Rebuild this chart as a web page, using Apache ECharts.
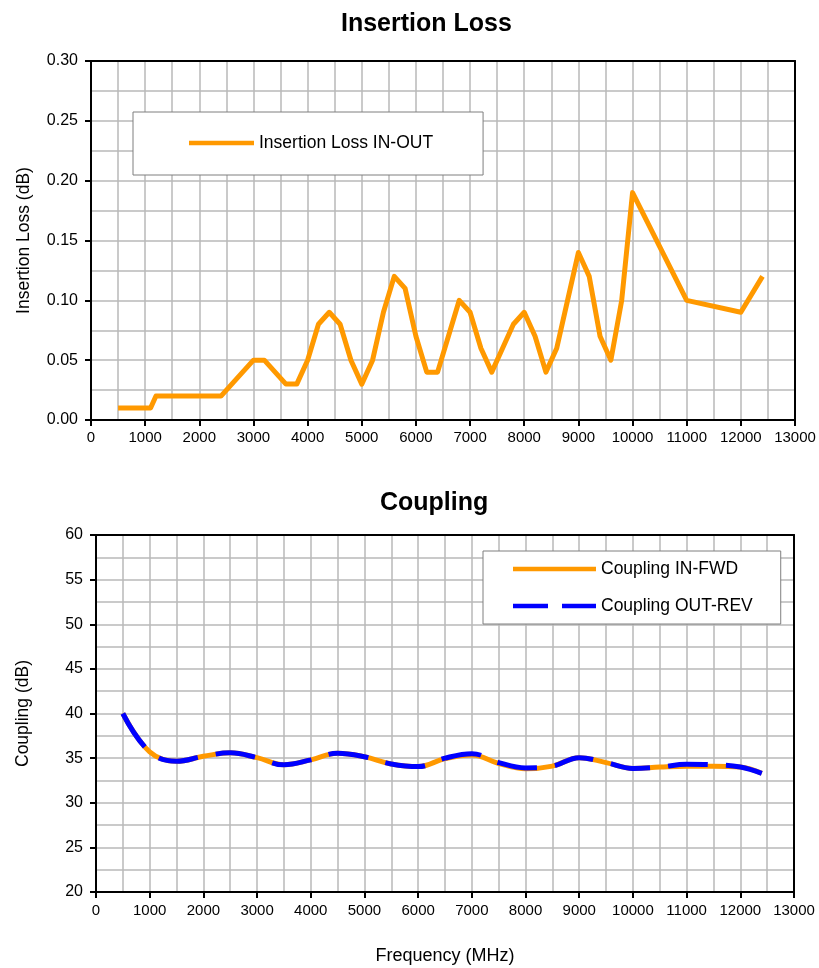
<!DOCTYPE html>
<html>
<head>
<meta charset="utf-8">
<script src="https://cdn.jsdelivr.net/npm/echarts@6/dist/echarts.min.js"></script>
<style>
  html, body { margin: 0; padding: 0; background: #fff; }
  #main { width: 819px; height: 968px; }
</style>
</head>
<body>
<div id="main"></div>
<script>
// Insertion loss (dB) vs frequency (MHz)
const ilFreq = [500, 1000, 1100, 1200, 2400, 3000, 3200, 3600, 3800, 4000, 4200, 4400, 4600, 4800, 5000, 5200, 5400, 5600, 5800, 6000, 6200, 6400, 6600, 6800, 7000, 7200, 7400, 7600, 7800, 8000, 8200, 8400, 8600, 8800, 9000, 9200, 9400, 9600, 9800, 10000, 11000, 12000, 12400];
const ilLoss = [0.01, 0.01, 0.01, 0.02, 0.02, 0.05, 0.05, 0.03, 0.03, 0.05, 0.08, 0.09, 0.08, 0.05, 0.03, 0.05, 0.09, 0.12, 0.11, 0.07, 0.04, 0.04, 0.07, 0.10, 0.09, 0.06, 0.04, 0.06, 0.08, 0.09, 0.07, 0.04, 0.06, 0.10, 0.14, 0.12, 0.07, 0.05, 0.10, 0.19, 0.10, 0.09, 0.12];

// Coupling (dB) vs frequency (MHz)
const cplFreq = [500, 1000, 1500, 2000, 2500, 3000, 3500, 4000, 4500, 5000, 5500, 6000, 6500, 7000, 7500, 8000, 8500, 9000, 9500, 10000, 10500, 11000, 11500, 12000, 12400];
const cplFwd = [40.0, 35.7, 34.65, 35.2, 35.6, 35.05, 34.25, 34.8, 35.55, 35.15, 34.35, 34.05, 34.95, 35.35, 34.4, 33.8, 34.1, 35.05, 34.5, 33.85, 34.0, 34.1, 34.1, 34.0, 33.3];
const cplRev = [40.0, 35.7, 34.65, 35.2, 35.6, 35.05, 34.25, 34.8, 35.55, 35.15, 34.35, 34.05, 35.0, 35.5, 34.5, 33.9, 34.1, 35.05, 34.5, 33.85, 34.0, 34.3, 34.25, 34.0, 33.3];

const xTicks = { min: 0, max: 13000, interval: 1000 };

function zip(xs, ys) {
  return xs.map((x, i) => [x, ys[i]]);
}

const FONT = 'Arial, "Liberation Sans", sans-serif';
const gridGray = '#b9b9b9';

// legend swatches: a solid bar and a bar with one gap
const solidIcon = 'path://M0,0H83V4.5H0Z';
const dashIcon = 'path://M0,0H35V4.5H0Z M49,0H83V4.5H49Z';

function mainX(gridIndex, labelMargin, extra) {
  return Object.assign({
    type: 'value',
    gridIndex: gridIndex,
    min: xTicks.min,
    max: xTicks.max,
    interval: xTicks.interval,
    axisLine: { show: true, onZero: false, lineStyle: { color: '#000', width: 2 } },
    axisTick: { show: true, length: 6, lineStyle: { color: '#000', width: 2 } },
    axisLabel: { color: '#000', fontSize: 15, fontFamily: FONT, margin: labelMargin, formatter: v => String(v) },
    splitLine: { show: true, lineStyle: { color: gridGray, width: 1.5 } },
    minorTick: { show: false, splitNumber: 2 },
    minorSplitLine: { show: true, lineStyle: { color: gridGray, width: 1.5 } }
  }, extra || {});
}

function mainY(gridIndex, min, max, interval, name, nameGap, fmt) {
  return {
    type: 'value',
    gridIndex: gridIndex,
    min: min,
    max: max,
    interval: interval,
    name: name,
    nameLocation: 'middle',
    nameGap: nameGap,
    nameTextStyle: { color: '#000', fontSize: 17.5, fontFamily: FONT },
    axisLine: { show: true, onZero: false, lineStyle: { color: '#000', width: 2 } },
    axisTick: { show: true, length: 6, lineStyle: { color: '#000', width: 2 } },
    axisLabel: { color: '#000', fontSize: 16, fontFamily: FONT, margin: 13, formatter: fmt },
    splitLine: { show: true, lineStyle: { color: gridGray, width: 1.5 } },
    minorTick: { show: false, splitNumber: 2 },
    minorSplitLine: { show: true, lineStyle: { color: gridGray, width: 1.5 } }
  };
}

// plain black edge for the top / right of each plot box
function edgeAxis(gridIndex, position, min, max) {
  return {
    type: 'value',
    gridIndex: gridIndex,
    position: position,
    min: min,
    max: max,
    axisLine: { show: true, onZero: false, lineStyle: { color: '#000', width: 2 } },
    axisTick: { show: false },
    axisLabel: { show: false },
    splitLine: { show: false }
  };
}

const chart = echarts.init(document.getElementById('main'), null, { renderer: 'canvas' });

const option = {
  backgroundColor: '#fff',
  animation: false,
  title: [
    { text: 'Insertion Loss', left: 336, top: 7,
      textStyle: { fontSize: 25, fontWeight: 'bold', color: '#000', fontFamily: FONT } },
    { text: 'Coupling', left: 375, top: 486,
      textStyle: { fontSize: 25, fontWeight: 'bold', color: '#000', fontFamily: FONT } }
  ],
  grid: [
    { left: 91, right: 24, top: 61, height: 359 },
    { left: 96, right: 25, top: 535, height: 357 }
  ],
  legend: [
    {
      data: [{ name: 'Insertion Loss IN-OUT', icon: solidIcon }],
      left: 133, top: 112,
      padding: [22, 50, 23, 56],
      itemWidth: 65, itemHeight: 4.5,
      symbolKeepAspect: false,
      backgroundColor: '#fff',
      borderColor: '#7f7f7f', borderWidth: 1,
      textStyle: { color: '#000', fontSize: 17.5, fontFamily: FONT }
    },
    {
      data: [
        { name: 'Coupling IN-FWD', icon: solidIcon },
        { name: 'Coupling OUT-REV', icon: dashIcon }
      ],
      orient: 'vertical',
      left: 483, top: 551,
      padding: [9, 28, 9, 30],
      itemGap: 19,
      itemWidth: 83, itemHeight: 4.5,
      symbolKeepAspect: false,
      backgroundColor: '#fff',
      borderColor: '#7f7f7f', borderWidth: 1,
      textStyle: { color: '#000', fontSize: 17.5, fontFamily: FONT }
    }
  ],
  xAxis: [
    mainX(0, 10),
    mainX(1, 11, {
      name: 'Frequency (MHz)',
      nameLocation: 'middle',
      nameGap: 55,
      nameTextStyle: { color: '#000', fontSize: 18, fontFamily: FONT }
    }),
    edgeAxis(0, 'top', xTicks.min, xTicks.max),
    edgeAxis(1, 'top', xTicks.min, xTicks.max)
  ],
  yAxis: [
    mainY(0, 0, 0.3, 0.05, 'Insertion Loss (dB)', 58, v => v.toFixed(2)),
    mainY(1, 20, 60, 5, 'Coupling (dB)', 64, v => String(v)),
    edgeAxis(0, 'right', 0, 0.3),
    edgeAxis(1, 'right', 20, 60)
  ],
  series: [
    {
      name: 'Insertion Loss IN-OUT',
      type: 'line',
      xAxisIndex: 0, yAxisIndex: 0,
      data: zip(ilFreq, ilLoss),
      symbol: 'none',
      lineStyle: { color: '#ff9900', width: 5, join: 'round' },
      itemStyle: { color: '#ff9900' },
      z: 5
    },
    {
      name: 'Coupling IN-FWD',
      type: 'line',
      xAxisIndex: 1, yAxisIndex: 1,
      data: zip(cplFreq, cplFwd),
      smooth: 0.4,
      symbol: 'none',
      lineStyle: { color: '#ff9900', width: 5 },
      itemStyle: { color: '#ff9900' },
      z: 5
    },
    {
      name: 'Coupling OUT-REV',
      type: 'line',
      xAxisIndex: 1, yAxisIndex: 1,
      data: zip(cplFreq, cplRev),
      smooth: 0.4,
      symbol: 'none',
      lineStyle: { color: '#0000ff', width: 5, type: [40, 18] },
      itemStyle: { color: '#0000ff' },
      z: 6
    }
  ]
};

chart.setOption(option);
</script>
</body>
</html>
